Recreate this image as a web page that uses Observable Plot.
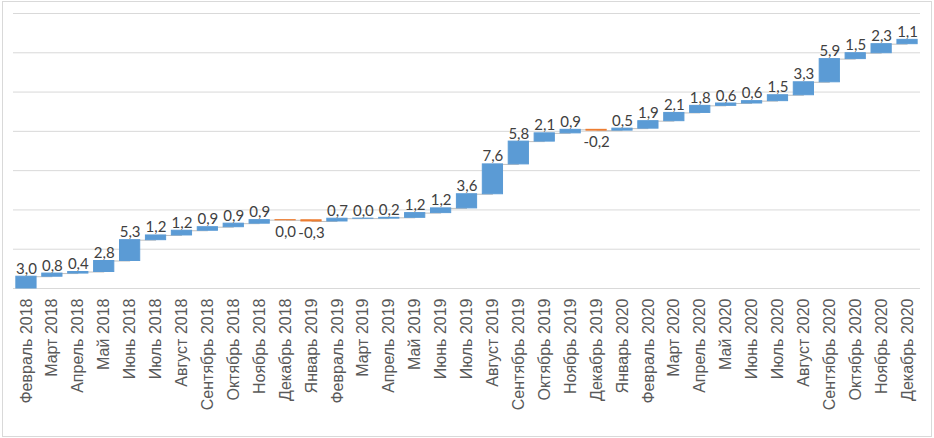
<!DOCTYPE html>
<html>
<head>
<meta charset="utf-8">
<script src="https://cdn.jsdelivr.net/npm/d3@7"></script>
<script src="https://cdn.jsdelivr.net/npm/@observablehq/plot@0.6"></script>
<style>
  body { margin: 0; background: #fff; }
  #wrap { position: relative; width: 934px; height: 438px; overflow: hidden; }
  #border { position: absolute; left: 2px; top: 1px; width: 928px; height: 434px; border: 1px solid #d9d9d9; pointer-events: none; }
</style>
</head>
<body>
<div id="wrap"><div id="border"></div></div>
<script>
const categories = [
  "Февраль 2018","Март 2018","Апрель 2018","Май 2018","Июнь 2018","Июль 2018","Август 2018",
  "Сентябрь 2018","Октябрь 2018","Ноябрь 2018","Декабрь 2018","Январь 2019","Февраль 2019",
  "Март 2019","Апрель 2019","Май 2019","Июнь 2019","Июль 2019","Август 2019","Сентябрь 2019",
  "Октябрь 2019","Ноябрь 2019","Декабрь 2019","Январь 2020","Февраль 2020","Март 2020",
  "Апрель 2020","Май 2020","Июнь 2020","Июль 2020","Август 2020","Сентябрь 2020",
  "Октябрь 2020","Ноябрь 2020","Декабрь 2020"
];
const changes = [
  3.0, 0.8, 0.4, 2.8, 5.3, 1.2, 1.2, 0.9, 0.9, 0.9, -0.04, -0.3, 0.7, 0.03, 0.2, 1.2, 1.2,
  3.6, 7.6, 5.8, 2.1, 0.9, -0.2, 0.5, 1.9, 2.1, 1.8, 0.6, 0.6, 1.5, 3.3, 5.9, 1.5, 2.3, 1.1
];
const gridTicks = [0, 10, 20, 30, 40, 50, 60, 70];

const ends = d3.cumsum(changes);
const rows = categories.map((c, i) => ({
  cat: c,
  v: changes[i],
  start: i === 0 ? 0 : ends[i - 1],
  end: ends[i]
}));
const links = rows.slice(0, -1).map((r, i) => ({a: r.cat, b: rows[i + 1].cat, y: r.end}));

const fmt = v => {
  let s = d3.format(".1f")(v).replace(".", ",").replace("\u2212", "-");
  if (s === "-0,0") s = "0,0";
  return s;
};
const colorOf = d => d.v >= 0 ? "#5b9bd5" : "#ed7d31";

const chart = Plot.plot({
  width: 934,
  height: 438,
  marginLeft: 13,
  marginRight: 14,
  marginTop: 13,
  marginBottom: 150,
  style: {fontFamily: "Liberation Sans", fontSize: "16px", color: "#595959", background: "transparent"},
  x: {domain: categories, paddingInner: 0.22, paddingOuter: 0.11, align: 0.5, label: null},
  y: {domain: [0, 70], label: null},
  marks: [
    Plot.gridY(gridTicks, {stroke: "#d9d9d9", strokeOpacity: 1}),
    Plot.link(links, {x1: "a", x2: "b", y1: "y", y2: "y", stroke: "#bfbfbf", strokeWidth: 1}),
    Plot.barY(rows, {x: "cat", y1: "start", y2: "end", fill: colorOf, stroke: colorOf, strokeWidth: 1}),
    Plot.text(rows.filter(d => d.v >= 0), {
      x: "cat", y: d => Math.max(d.start, d.end), text: d => fmt(d.v),
      lineAnchor: "bottom", dy: -3, fill: "#404040", fontFamily: "Lato", fontSize: 15
    }),
    Plot.text(rows.filter(d => d.v < 0), {
      x: "cat", y: d => Math.min(d.start, d.end), text: d => fmt(d.v),
      lineAnchor: "top", dy: 6, fill: "#404040", fontFamily: "Lato", fontSize: 15
    }),
    Plot.axisX({tickRotate: -90, tickSize: 0, tickPadding: 10, label: null, fill: "#595959"}),
    Plot.axisY({ticks: [], label: null, tickSize: 0})
  ]
});
document.getElementById("wrap").insertBefore(chart, document.getElementById("border"));
</script>
</body>
</html>
